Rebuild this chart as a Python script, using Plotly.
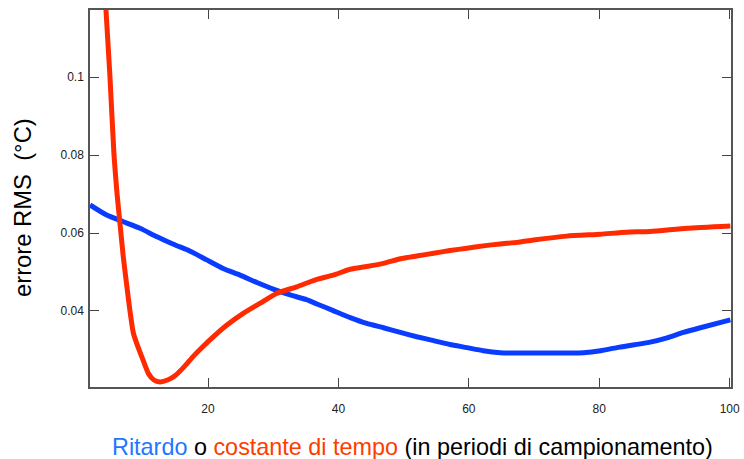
import plotly.graph_objects as go

# Red curve: time constant (costante di tempo)
red_x = [4.0, 4.35, 4.96, 5.58, 6.04, 6.65, 7.0, 7.62, 8.03, 8.54, 9.06, 9.83, 10.84, 11.7,
         12.63, 13.8, 14.94, 16.4, 17.7, 19.0, 20.3, 22.9, 25.4, 28.0, 30.5, 33.6, 35.65,
         36.7, 39.2, 41.8, 44.35, 46.9, 49.5, 52.0, 54.6, 57.1, 59.7, 62.2, 64.8, 67.4,
         69.9, 75.0, 80.2, 84.2, 87.8, 93.45, 100.1]
red_y = [0.1270, 0.1172, 0.1001, 0.0800, 0.0702, 0.0599, 0.0539, 0.0454, 0.0400, 0.0344,
         0.0317, 0.0283, 0.0240, 0.0223, 0.0218, 0.0223, 0.0234, 0.0258, 0.0283, 0.0305,
         0.0326, 0.0364, 0.0394, 0.0420, 0.0445, 0.0462, 0.0475, 0.0481, 0.0492, 0.0507,
         0.0514, 0.0522, 0.0534, 0.0541, 0.0548, 0.0555, 0.0561, 0.0567, 0.0572, 0.0576,
         0.0582, 0.0592, 0.0597, 0.0602, 0.0604, 0.0612, 0.0618]

# Blue curve: delay (ritardo)
blue_x = [1.9, 4.46, 7.0, 9.56, 12.1, 14.7, 17.2, 19.8, 22.3, 24.9, 27.5, 30.0, 32.6, 35.1,
          36.7, 39.2, 41.8, 44.35, 46.9, 49.5, 52.0, 54.6, 57.1, 59.7, 62.2, 64.8, 69.9,
          77.6, 80.2, 82.7, 87.8, 90.4, 92.9, 95.5, 100.1]
blue_y = [0.0672, 0.0646, 0.0629, 0.0612, 0.0591, 0.0571, 0.0554, 0.0531, 0.0509, 0.0492,
          0.0473, 0.0456, 0.0441, 0.0429, 0.0418, 0.0401, 0.0383, 0.0368, 0.0357, 0.0345,
          0.0334, 0.0324, 0.0314, 0.0306, 0.0298, 0.0293, 0.0292, 0.0293, 0.0298, 0.0306,
          0.0320, 0.0331, 0.0345, 0.0357, 0.0377]

x_ticks = [20, 40, 60, 80, 100]
x_ticklabels = ["20", "40", "60", "80", "100"]
y_ticks = [0.04, 0.06, 0.08, 0.1]
y_ticklabels = ["0.04", "0.06", "0.08", "0.1"]

RED = "#ff2a00"
BLUE = "#0a3cff"

fig = go.Figure()
fig.add_trace(go.Scatter(x=blue_x, y=blue_y, mode="lines",
                         line=dict(color=BLUE, width=5, shape="spline", smoothing=0.5),
                         showlegend=False, hoverinfo="skip"))
fig.add_trace(go.Scatter(x=red_x, y=red_y, mode="lines",
                         line=dict(color=RED, width=5, shape="spline", smoothing=0.5),
                         showlegend=False, hoverinfo="skip"))

axis_common = dict(showgrid=False, zeroline=False, showline=True, linecolor="#555555",
                   linewidth=1.5, mirror="allticks", ticks="inside", ticklen=9,
                   tickcolor="#444444", tickwidth=1, automargin=False,
                   tickfont=dict(family="Liberation Sans, Arial, sans-serif", size=12,
                                 color="#222222"))

fig.update_layout(
    width=744, height=459,
    margin=dict(l=90, r=13, t=10, b=72, autoexpand=False),
    paper_bgcolor="white", plot_bgcolor="white",
    xaxis=dict(range=[1.9, 100.2], tickvals=x_ticks, ticktext=x_ticklabels,
               ticklabelstandoff=10, **axis_common),
    yaxis=dict(range=[0.0205, 0.1172], tickvals=y_ticks, ticktext=y_ticklabels,
               ticklabelstandoff=2, **axis_common),
    annotations=[
        dict(text="errore RMS  (°C)", textangle=-90, xref="paper", yref="paper",
             x=-83/641, y=(387-207.5)/377, xanchor="left", yanchor="middle",
             showarrow=False,
             font=dict(family="Liberation Sans, Arial, sans-serif", size=23.8, color="#000000")),
        dict(text="<span style='color:#1e78ff'>Ritardo</span> o "
                  "<span style='color:#ff3c00'>costante di tempo</span> "
                  "(in periodi di campionamento)",
             xref="paper", yref="paper", x=(412.5-90)/641, y=-(447-387)/377,
             xanchor="center", yanchor="middle", showarrow=False,
             font=dict(family="Liberation Sans, Arial, sans-serif", size=23.4, color="#000000")),
    ],
)

fig.write_html("out.html")
